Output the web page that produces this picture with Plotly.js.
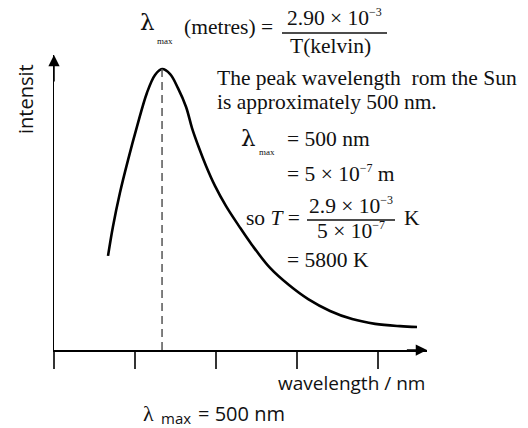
<!DOCTYPE html>
<html><head><meta charset="utf-8">
<script src="https://cdn.plot.ly/plotly-3.0.1.min.js"></script>
<style>html,body{margin:0;padding:0;background:#fff}#c{width:528px;height:428px}</style>
</head><body><div id="c"></div>
<script>
// Data (wavelength in nm, intensity in arbitrary units, peak = 100)
const wavelength = [300,318,344,374,407,444,474,500,530,559,589,611,637,663,696,737,785,833,900,970,1041,1122,1204,1289,1381,1444];
const intensity  = [33.5,43.8,55.9,67.6,79.4,91.5,97.9,100,98.2,93.2,86.5,79.0,71.9,65.5,58.4,51.2,44.1,37.4,29.2,23.1,18.1,13.9,11.0,9.3,8.5,8.2];
const tickVals = [100,400,700,1000,1300];
const peakWavelength = 500;
const peakIntensity = 100;
const xRange = [100,1481];
const yRange = [0,105];

// layout helpers (pixel -> paper)
const L=54, R=427, T=55, B=350;
const px = v => (v-L)/(R-L);
const py = v => (B-v)/(B-T);
const serif = "Liberation Serif";
const greek = "DejaVu Serif";
const sans = "Open Sans";
const FS = 21.5;
const sup = s => '<sup><span style="font-size:12px">' + s + '</span></sup>';

function txt(text, x, y, o){
  o = o || {};
  return Object.assign({text:text, xref:'paper', yref:'paper', x:px(x), y:py(y),
    xanchor:o.xa||'left', yanchor:'middle', showarrow:false,
    font:{family:o.fam||serif, size:o.size||FS, color:'#111'}}, o.extra||{});
}

const traces = [
  {x:wavelength, y:intensity, mode:'lines', line:{color:'#000', width:2.6, shape:'spline', smoothing:1}, hoverinfo:'skip'},
  {x:[peakWavelength, peakWavelength], y:[0, peakIntensity], mode:'lines', line:{color:'#555', width:1.5, dash:'8px,5px'}, hoverinfo:'skip'}
];

const annotations = [
  // axis arrows
  {x:xRange[1], y:0, ax:xRange[1]-80, ay:0, xref:'x', yref:'y', axref:'x', ayref:'y', text:'', showarrow:true, arrowhead:2, arrowsize:1.5, arrowwidth:1.5, arrowcolor:'#000'},
  {x:xRange[0], y:yRange[1], ax:xRange[0], ay:yRange[1]-10, xref:'x', yref:'y', axref:'x', ayref:'y', text:'', showarrow:true, arrowhead:2, arrowsize:1.5, arrowwidth:1.5, arrowcolor:'#000'},
  {x:peakWavelength, y:-1.8, ax:peakWavelength, ay:-17.8, xref:'x', yref:'y', axref:'x', ayref:'y', text:'', showarrow:true, arrowhead:2, arrowsize:1.1, arrowwidth:1.2, arrowcolor:'#000'},
  // top formula
  txt('λ', 147, 22, {xa:'center', fam:greek, size:23}),
  txt('max', 155, 41, {size:9}),
  txt('(metres) =', 182, 27),
  txt('2.90 × 10' + sup('−3'), 334, 18, {xa:'center'}),
  txt('T(kelvin)', 330, 46, {xa:'center'}),
  // right block
  txt('The peak wavelength\u00A0\u00A0rom the Sun', 215, 78),
  txt('is approximately 500 nm.', 215, 102),
  txt('λ', 248, 138, {xa:'center', fam:greek, size:23}),
  txt('max', 257, 152, {size:9}),
  txt('= 500 nm', 285, 139),
  txt('= 5 × 10' + sup('−7') + ' m', 285, 173),
  txt('so <i>T</i> =', 302, 218, {xa:'right'}),
  txt('2.9 × 10' + sup('−3'), 351, 205, {xa:'center'}),
  txt('5 × 10' + sup('−7'), 351, 231, {xa:'center'}),
  txt('K', 402, 218),
  txt('= 5800 K', 285, 260),
  // sans labels
  txt('intensit', 25, 99, {xa:'center', fam:sans, size:20, extra:{textangle:-90}}),
  txt('wavelength / nm', 427, 383, {xa:'right', fam:sans, size:19}),
  txt('λ', 148, 413, {xa:'center', fam:serif, size:22}),
  txt('max', 159, 418, {fam:sans, size:15}),
  txt('= 500 nm', 196, 413, {fam:sans, size:20})
];

const shapes = [
  {type:'line', xref:'paper', yref:'paper', x0:px(282), x1:px(387), y0:py(33), y1:py(33), line:{color:'#111', width:1.3}},
  {type:'line', xref:'paper', yref:'paper', x0:px(307), x1:px(395), y0:py(220), y1:py(220), line:{color:'#111', width:1.3}}
];

const layout = {
  width:528, height:428,
  margin:{l:L, r:528-R, t:T, b:428-B, pad:0},
  paper_bgcolor:'#fff', plot_bgcolor:'#fff',
  showlegend:false,
  xaxis:{range:xRange, showgrid:false, zeroline:false, showline:true, linecolor:'#000', linewidth:1.5,
         ticks:'outside', tickvals:tickVals, ticklen:17, tickwidth:1.5, tickcolor:'#333', showticklabels:false},
  yaxis:{range:yRange, showgrid:false, zeroline:false, showline:true, linecolor:'#000', linewidth:1.5,
         ticks:'', showticklabels:false},
  annotations:annotations,
  shapes:shapes
};

Plotly.newPlot('c', traces, layout, {staticPlot:true, displayModeBar:false});
</script></body></html>
